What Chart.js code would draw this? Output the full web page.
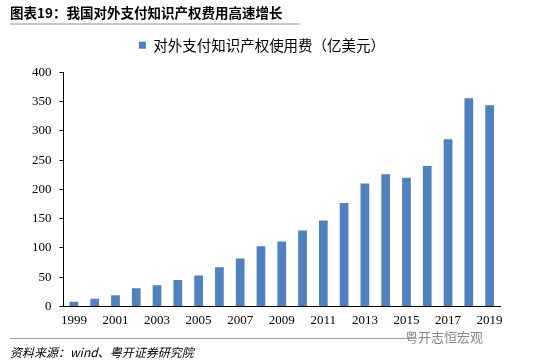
<!DOCTYPE html>
<html>
<head>
<meta charset="utf-8">
<script src="https://cdn.jsdelivr.net/npm/chart.js@4"></script>
<style>
  body { margin: 0; background: #fff; }
  #wrap { position: relative; width: 550px; height: 364px; }
  #title { position: absolute; left: 10px; top: 2px; font: bold 13.5px "Noto Sans CJK SC", sans-serif; color: #000; }
  #tline { position: absolute; left: 10px; top: 23px; width: 290px; height: 2px; background: #c8c8c8; }
  #fline { position: absolute; left: 10px; top: 338px; width: 400px; height: 1px; background: #999; }
  #src { position: absolute; left: 10px; top: 343px; font: italic 12px "Noto Sans CJK SC", sans-serif; color: #000; }
  #wm { position: absolute; left: 405px; top: 327px; font: 13px "Noto Sans CJK SC", sans-serif; color: #888; }
  canvas { position: absolute; left: 0; top: 0; }
</style>
</head>
<body>
<div id="wrap">
  <canvas id="c" width="550" height="364"></canvas>
  <div id="title">图表19：我国对外支付知识产权费用高速增长</div>
  <div id="tline"></div>
  <div id="fline"></div>
  <div id="src">资料来源：wind、粤开证券研究院</div>
  <div id="wm">粤开志恒宏观</div>
</div>
<script>
const years = ['1999','2000','2001','2002','2003','2004','2005','2006','2007','2008','2009','2010',
               '2011','2012','2013','2014','2015','2016','2017','2018','2019'];
const fees = [8, 13, 19, 31, 36, 45, 53, 67, 82, 103, 111, 130,
              147, 177, 210, 226, 220, 240, 286, 356, 344];
const seriesName = '对外支付知识产权使用费（亿美元）';

// push the plot area down below the legend a bit
const legendGap = {
    id: 'legendGap',
    beforeInit(chart) {
        const fit = chart.legend.fit;
        chart.legend.fit = function() {
            fit.bind(chart.legend)();
            this.height += 10;
        };
    }
};

const ctx = document.getElementById('c').getContext('2d');
new Chart(ctx, {
    type: 'bar',
    data: {
        labels: years,
        datasets: [{
            label: seriesName,
            data: fees,
            backgroundColor: '#4f81bd',
            borderColor: '#4f81bd',
            barPercentage: 0.42,
            categoryPercentage: 1
        }]
    },
    options: {
        responsive: false,
        animation: false,
        layout: { padding: { left: 24, right: 50, top: 28, bottom: 30 } },
        plugins: {
            legend: {
                position: 'top',
                labels: {
                    boxWidth: 7, boxHeight: 7, padding: 10,
                    color: '#000',
                    font: { family: '"Noto Sans CJK SC"', size: 14.5 }
                }
            },
            tooltip: { enabled: false }
        },
        scales: {
            x: {
                grid: { display: false, drawTicks: false },
                border: { color: '#000', width: 1 },
                ticks: {
                    autoSkip: false, maxRotation: 0, padding: 6,
                    color: '#000',
                    font: { family: '"Liberation Serif"', size: 13 },
                    callback: function(v, i) { return i % 2 === 0 ? years[i] : ''; }
                }
            },
            y: {
                min: 0, max: 400,
                grid: { drawOnChartArea: false, tickLength: 4, color: '#000' },
                border: { color: '#000', width: 1 },
                ticks: {
                    stepSize: 50, padding: 8,
                    color: '#000',
                    font: { family: '"Liberation Serif"', size: 13 }
                }
            }
        }
    },
    plugins: [legendGap]
});
</script>
</body>
</html>
